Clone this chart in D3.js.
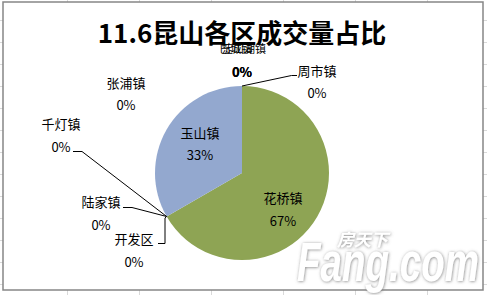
<!DOCTYPE html>
<html>
<head>
<meta charset="utf-8">
<script src="https://cdn.jsdelivr.net/npm/d3@7"></script>
<style>
body { margin: 0; background: #fff; }
svg { display: block; font-family: "Noto Sans CJK SC", "Noto Sans", sans-serif; }
</style>
</head>
<body>
<script>
// 11.6 昆山各区成交量 (套数)
var categories = ["周市镇", "花桥镇", "开发区", "陆家镇", "千灯镇", "玉山镇", "张浦镇", "巴城镇", "淀山湖镇"];
var values = [0, 2, 0, 0, 0, 1, 0, 0, 0];
var colors = { "花桥镇": "#8ea454", "玉山镇": "#93a8cf" };

var W = 487, H = 295;
var cx = 242, cy = 173, r = 87;

var svg = d3.select("body").append("svg")
	.attr("width", W).attr("height", H);

// excel grid behind the chart
var grid = svg.append("g").attr("stroke", "#d9d9d9").attr("stroke-width", 1);
d3.range(-5, W, 72).forEach(function (x) {
	grid.append("line").attr("x1", x + 0.5).attr("x2", x + 0.5).attr("y1", 0).attr("y2", H);
});
d3.range(-2, H, 22).forEach(function (y) {
	grid.append("line").attr("x1", 0).attr("x2", W).attr("y1", y + 0.5).attr("y2", y + 0.5);
});

// chart area
svg.append("rect")
	.attr("x", 3).attr("y", 2).attr("width", 480).attr("height", 288)
	.attr("fill", "#fff").attr("stroke", "#868686").attr("stroke-width", 1.5);

svg.append("text")
	.attr("x", 242).attr("y", 43)
	.attr("text-anchor", "middle")
	.attr("font-size", 26).attr("font-weight", "bold")
	.attr("fill", "#000")
	.text("11.6昆山各区成交量占比");

var data = categories.map(function (c, i) { return { name: c, value: values[i] }; });
var total = d3.sum(values);

var pie = d3.pie().sort(null).value(function (d) { return d.value; });
var arc = d3.arc().innerRadius(0).outerRadius(r);
var arcs = pie(data);

var g = svg.append("g").attr("transform", "translate(" + cx + "," + cy + ")");
g.selectAll("path")
	.data(arcs.filter(function (d) { return d.data.value > 0; }))
	.enter().append("path")
	.attr("d", arc)
	.attr("fill", function (d) { return colors[d.data.name]; });

// label layout (centre of name, centre of percentage, leader line)
var labelPos = {
	"花桥镇": { x: 283, y: 198, py: 221 },
	"玉山镇": { x: 200, y: 133, py: 155 },
	"张浦镇": { x: 126, y: 83, py: 105 },
	"周市镇": { x: 317, y: 71, py: 93, line: [[297, 75.5], [291.5, 75.5]] },
	"千灯镇": { x: 61, y: 124, py: 147, line: [[73, 151.5], [82, 151.5]] },
	"陆家镇": { x: 101, y: 202, py: 225, line: [[123, 207.5], [132, 207.5]] },
	"开发区": { x: 134, y: 239, py: 262, line: [[158, 243.5], [165, 243.5], [165, 218]] },
	"巴城镇": { x: 236, y: 49, px: 242, py: 72, small: true },
	"淀山湖镇": { x: 244, y: 49, px: 242, py: 72, small: true }
};

var lab = svg.append("g").attr("fill", "#000");
arcs.forEach(function (d) {
	var p = labelPos[d.data.name];
	var pct = Math.round(d.data.value / total * 100) + "%";
	lab.append("text")
		.attr("x", p.x).attr("y", p.y)
		.attr("dy", "0.35em")
		.attr("text-anchor", "middle")
		.attr("font-size", p.small ? 11 : 13)
		.text(d.data.name);
	lab.append("text")
		.attr("x", p.px || p.x).attr("y", p.py)
		.attr("dy", "0.35em")
		.attr("text-anchor", "middle")
		.attr("font-size", 13)
		.attr("font-weight", p.small ? "bold" : null)
		.text(pct);
	if (p.line) {
		// zero slices: leader to their position on the rim
		var a = d.startAngle;
		var rim = [cx + Math.sin(a) * r, cy - Math.cos(a) * r];
		svg.append("path")
			.attr("d", d3.line()(p.line.concat([rim])))
			.attr("fill", "none").attr("stroke", "#000").attr("stroke-width", 1);
	}
});

// watermark
var wm = svg.append("g").attr("font-family", "Liberation Sans, Arial, sans-serif");
var defs = svg.append("defs");
var f = defs.append("filter").attr("id", "sh").attr("x", "-20%").attr("y", "-20%").attr("width", "140%").attr("height", "140%");
f.append("feDropShadow").attr("dx", 0.5).attr("dy", 0.5).attr("stdDeviation", 1.6).attr("flood-color", "#777").attr("flood-opacity", 0.9);
wm.append("text")
	.attr("x", 297).attr("y", 281)
	.attr("font-size", 56).attr("font-weight", "bold").attr("font-style", "italic")
	.attr("fill", "#fff").attr("filter", "url(#sh)")
	.attr("textLength", 182).attr("lengthAdjust", "spacingAndGlyphs")
	.text("Fang.com");
wm.append("text")
	.attr("x", 337).attr("y", 246)
	.attr("font-family", "Noto Sans CJK SC")
	.attr("font-size", 17).attr("font-weight", "bold").attr("font-style", "italic")
	.attr("fill", "#fff").attr("filter", "url(#sh)")
	.text("房天下");
</script>
</body>
</html>
